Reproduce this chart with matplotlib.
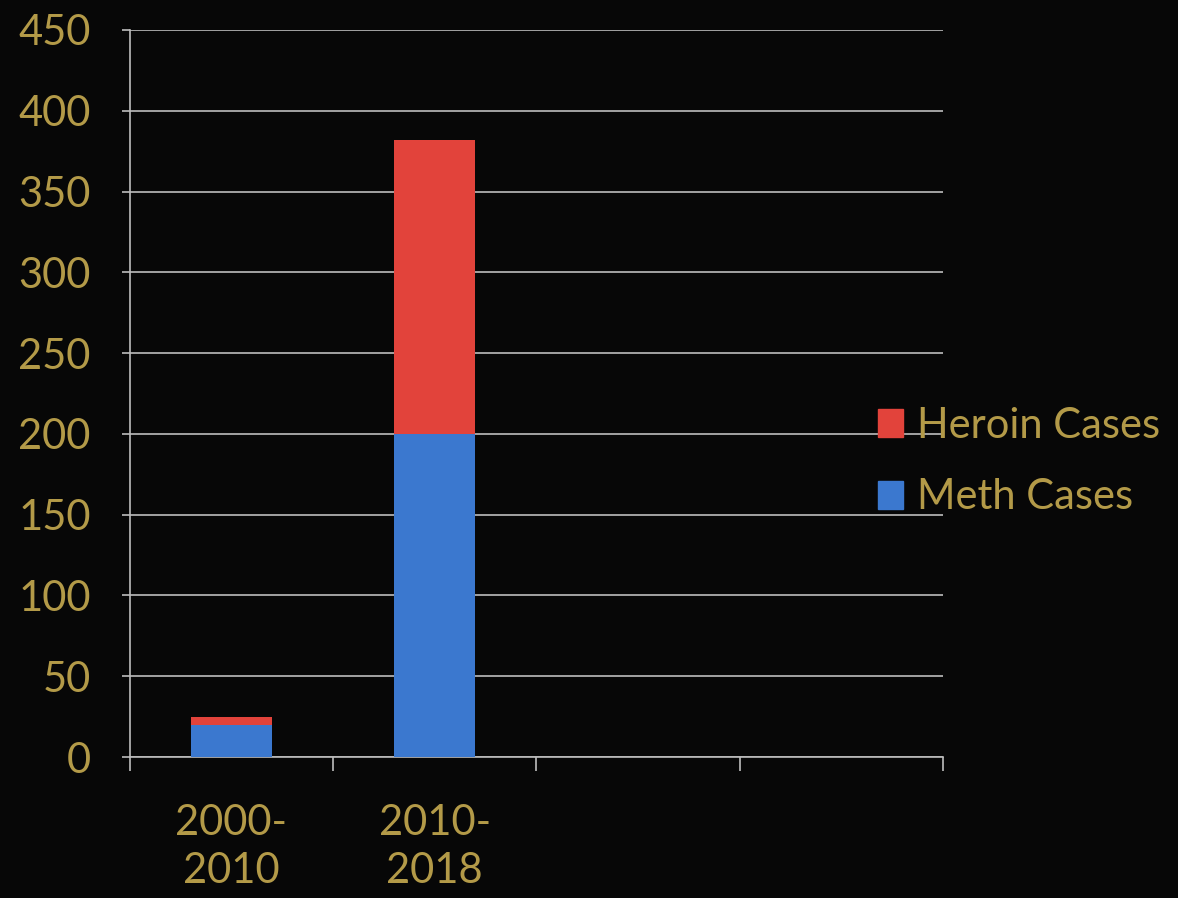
import matplotlib.pyplot as plt
import numpy as np
from matplotlib.patches import Patch

categories = ["2000-\n2010", "2010-\n2018", "", ""]
meth = [20, 200, 0, 0]
heroin = [5, 182, 0, 0]
yticks = [0, 50, 100, 150, 200, 250, 300, 350, 400, 450]

bg = "#070707"
gold = "#b39a48"
red = "#e2433b"
blue = "#3b78cf"
grid = "#bdbdbd"

plt.rcParams['font.family'] = ['Lato', 'DejaVu Sans']

fig = plt.figure(figsize=(11.78, 8.98), dpi=100, facecolor=bg)
ax = fig.add_axes([0.110, 0.157, 0.6905, 0.8096], facecolor=bg)

x = np.arange(len(categories))
ax.bar(x, meth, width=0.4, color=blue, zorder=3)
ax.bar(x, heroin, width=0.4, bottom=meth, color=red, zorder=3)

ax.set_xlim(-0.5, 3.5)
ax.set_ylim(0, 450)
ax.set_yticks(yticks)
ax.set_yticklabels([str(v) for v in yticks])
ax.set_xticks(x)
ax.set_xticklabels(categories)
ax.set_xticks(np.arange(-0.5, 4.0, 1.0), minor=True)

ax.yaxis.grid(True, color=grid, linewidth=1.2, zorder=0)
ax.tick_params(axis='y', colors=gold, labelsize=30, length=6, width=1.2, pad=22)
ax.tick_params(axis='y', color=grid)
ax.tick_params(axis='x', which='major', length=0, labelsize=30, labelcolor=gold, pad=34)
ax.tick_params(axis='x', which='minor', length=10, width=1.2, color=grid)
for lab in ax.get_xticklabels():
    lab.set_linespacing(1.3)
for s in ['top', 'right']:
    ax.spines[s].set_visible(False)
ax.spines['left'].set_color(grid)
ax.spines['bottom'].set_color(grid)
ax.spines['left'].set_linewidth(1.2)
ax.spines['bottom'].set_linewidth(1.2)

handles = [Patch(color=red, label="Heroin Cases"), Patch(color=blue, label="Meth Cases")]
leg = fig.legend(handles=handles, loc='center left', bbox_to_anchor=(0.745, 0.486),
                 frameon=False, fontsize=30, labelcolor=gold, handlelength=0.6,
                 handleheight=0.65, handletextpad=0.35, labelspacing=0.8,
                 borderaxespad=0, borderpad=0)

fig.savefig("out.png", dpi=100, facecolor=bg)
